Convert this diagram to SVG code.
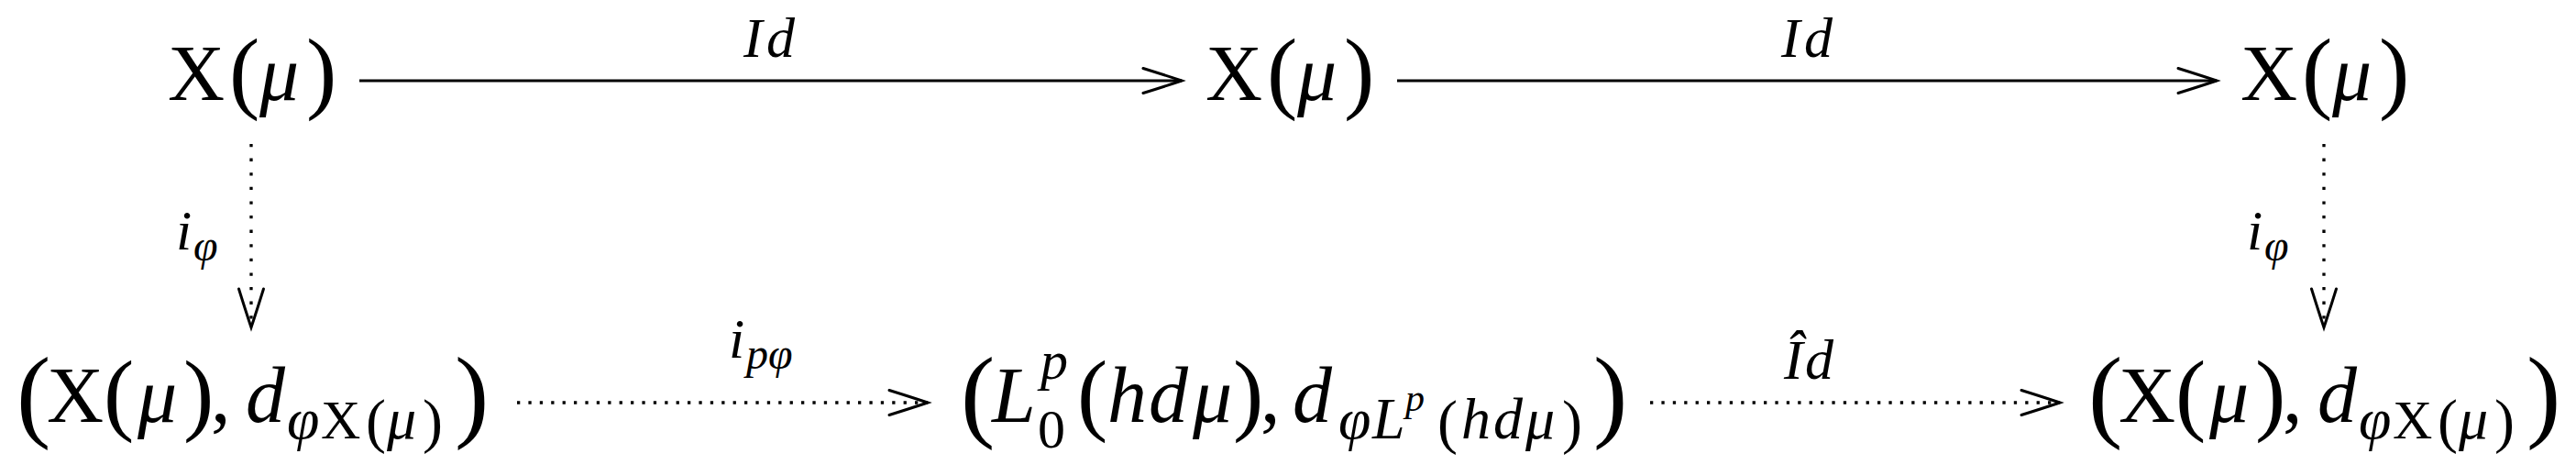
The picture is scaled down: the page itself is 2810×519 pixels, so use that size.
<svg xmlns="http://www.w3.org/2000/svg" width="2810" height="519" viewBox="0 0 2810 519">
<style>
  text { font-family: "Liberation Serif", "Times New Roman", serif; fill: #000; }
  .m { font-size: 86px; }
  .it { font-style: italic; }
  .p { font-size: 100px; }
  .bp { font-size: 112px; }
  .s { font-size: 60px; }
  .si { font-size: 64px; font-style: italic; }
  .sp { font-size: 66px; }
  .ss { font-size: 42px; }
  .lab { font-size: 62px; font-style: italic; }
  .lsub { font-size: 48px; font-style: italic; }
  .solid { stroke: #000; stroke-width: 3.1; fill: none; }
  .doth { stroke: #000; stroke-width: 3.3; fill: none; stroke-dasharray: 3.3 9.1; }
  .dotv { stroke: #000; stroke-width: 3.3; fill: none; stroke-dasharray: 3.3 12.3; }
</style>
<defs>
  <marker id="vee" markerUnits="userSpaceOnUse" viewBox="0 0 50 32" markerWidth="50" markerHeight="32" refX="44" refY="16" orient="auto">
    <path d="M2,2.5 Q26,10 44,16 Q26,22 2,29.5" fill="none" stroke="#000" stroke-width="3" stroke-dasharray="none" stroke-linecap="round"/>
  </marker>
</defs>
<rect width="2810" height="519" fill="#fff"/>

<g id="node-top-left">
  <text class="m" y="109"><tspan x="183">X</tspan><tspan class="p" x="250" y="111">(</tspan><tspan class="it" x="283" y="109">μ</tspan><tspan class="p" x="334" y="111">)</tspan></text>
</g>
<g id="node-top-middle">
  <text class="m" y="109"><tspan x="1315">X</tspan><tspan class="p" x="1382" y="111">(</tspan><tspan class="it" x="1415" y="109">μ</tspan><tspan class="p" x="1466" y="111">)</tspan></text>
</g>
<g id="node-top-right">
  <text class="m" y="109"><tspan x="2444">X</tspan><tspan class="p" x="2511" y="111">(</tspan><tspan class="it" x="2544" y="109">μ</tspan><tspan class="p" x="2595" y="111">)</tspan></text>
</g>

<g id="node-bottom-left">
  <text class="m" y="460"><tspan class="bp" x="18" y="467">(</tspan><tspan x="51" y="460">X</tspan><tspan class="p" x="113" y="462">(</tspan><tspan class="it" x="150" y="460">μ</tspan><tspan class="p" x="200" y="462">)</tspan><tspan x="230" y="460">,</tspan><tspan class="it" x="268" y="460">d</tspan><tspan class="si" x="313" y="478">φ</tspan><tspan class="s" x="350" y="478">X</tspan><tspan class="sp" x="399" y="481">(</tspan><tspan class="si" x="422" y="478">μ</tspan><tspan class="sp" x="461" y="481">)</tspan><tspan class="bp" x="496" y="467">)</tspan></text>
</g>

<g id="node-bottom-middle">
  <text class="m" y="460"><tspan class="bp" x="1048" y="467">(</tspan><tspan class="it" x="1082" y="460">L</tspan><tspan class="s it" x="1135" y="413">p</tspan><tspan class="s" x="1132" y="488">0</tspan><tspan class="p" x="1175" y="462">(</tspan><tspan class="it" x="1208" y="460">h</tspan><tspan class="it" x="1253" y="460">d</tspan><tspan class="it" x="1301" y="460">μ</tspan><tspan class="p" x="1345" y="462">)</tspan><tspan x="1375" y="460">,</tspan><tspan class="it" x="1410" y="460">d</tspan><tspan class="si" x="1460" y="478">φ</tspan><tspan class="si" x="1497" y="478">L</tspan><tspan class="ss it" x="1533" y="448">p</tspan><tspan class="sp" x="1568" y="482">(</tspan><tspan class="si" x="1594" y="478">h</tspan><tspan class="si" x="1629" y="478">d</tspan><tspan class="si" x="1664" y="478">μ</tspan><tspan class="sp" x="1704" y="482">)</tspan><tspan class="bp" x="1738" y="467">)</tspan></text>
</g>

<g id="node-bottom-right">
  <text class="m" y="460"><tspan class="bp" x="2278" y="467">(</tspan><tspan x="2311" y="460">X</tspan><tspan class="p" x="2373" y="462">(</tspan><tspan class="it" x="2410" y="460">μ</tspan><tspan class="p" x="2460" y="462">)</tspan><tspan x="2490" y="460">,</tspan><tspan class="it" x="2528" y="460">d</tspan><tspan class="si" x="2573" y="478">φ</tspan><tspan class="s" x="2610" y="478">X</tspan><tspan class="sp" x="2659" y="481">(</tspan><tspan class="si" x="2682" y="478">μ</tspan><tspan class="sp" x="2721" y="481">)</tspan><tspan class="bp" x="2756" y="467">)</tspan></text>
</g>

<g id="connectors">
  <line class="solid" x1="392" y1="88" x2="1289" y2="88" marker-end="url(#vee)"/>
  <line class="solid" x1="1524" y1="88" x2="2418" y2="88" marker-end="url(#vee)"/>
  <line class="dotv" x1="274" y1="157" x2="274" y2="357" marker-end="url(#vee)"/>
  <line class="dotv" x1="2535" y1="157" x2="2535" y2="357" marker-end="url(#vee)"/>
  <line class="doth" x1="564" y1="439" x2="1012" y2="439" marker-end="url(#vee)"/>
  <line class="doth" x1="1800" y1="439" x2="2247" y2="439" marker-end="url(#vee)"/>
  <text class="lab" y="62"><tspan x="811">I</tspan><tspan x="836">d</tspan></text>
  <text class="lab" y="62"><tspan x="1943">I</tspan><tspan x="1968">d</tspan></text>
  <text class="lab" y="272"><tspan x="192">i</tspan><tspan class="lsub" x="211" y="284">φ</tspan></text>
  <text class="lab" y="272"><tspan x="2451">i</tspan><tspan class="lsub" x="2470" y="284">φ</tspan></text>
  <text class="lab" y="390"><tspan x="795">i</tspan><tspan class="lsub" x="814" y="402">pφ</tspan></text>
  <text class="lab" y="413"><tspan x="1946">Î</tspan><tspan x="1969">d</tspan></text>
</g>
</svg>
